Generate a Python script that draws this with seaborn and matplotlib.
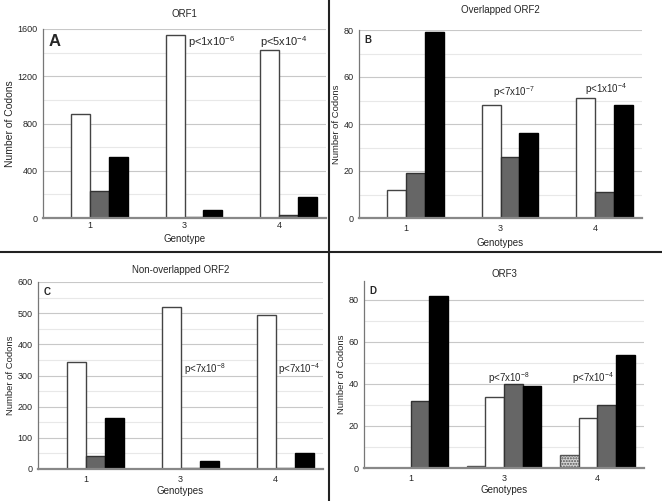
import numpy as np
import pandas as pd
import matplotlib
matplotlib.use("Agg")
import matplotlib.pyplot as plt
from matplotlib.lines import Line2D
import seaborn as sns

# data
genotypes = ["1", "3", "4"]
classes = ["dotted", "white", "gray", "black"]

orf1 = {"dotted": [0, 0, 0], "white": [880, 1550, 1425], "gray": [225, 6, 25], "black": [520, 70, 175]}
orf2_ov = {"dotted": [0, 0, 0], "white": [12, 48, 51], "gray": [19, 26, 11], "black": [79, 36, 48]}
orf2_nov = {"dotted": [0, 0, 0], "white": [343, 521, 493], "gray": [41, 3, 4], "black": [163, 26, 52]}
orf3 = {"dotted": [0, 1, 6], "white": [0, 34, 24], "gray": [32, 40, 30], "black": [82, 39, 54]}

pvals_a = [r"p<1x10$^{\mathregular{-6}}$", r"p<5x10$^{\mathregular{-4}}$"]
pvals_b = [r"p<7x10$^{\mathregular{-7}}$", r"p<1x10$^{\mathregular{-4}}$"]
pvals_c = [r"p<7x10$^{\mathregular{-8}}$", r"p<7x10$^{\mathregular{-4}}$"]
pvals_d = [r"p<7x10$^{\mathregular{-8}}$", r"p<7x10$^{\mathregular{-4}}$"]

sns.set_style("white")
plt.rcParams["font.family"] = ["Liberation Sans", "DejaVu Sans"]
plt.rcParams["mathtext.default"] = "regular"

W, H = 662, 501
fig = plt.figure(figsize=(W / 100, H / 100), dpi=100)

fills = {"dotted": "#d4d4d4", "white": "#ffffff", "gray": "#666666", "black": "#000000"}
edges = {"dotted": "#555555", "white": "#444444", "gray": "#333333", "black": "#000000"}


def px_axes(left, right, top, bottom):
    return fig.add_axes([left / W, 1 - bottom / H, (right - left) / W, (bottom - top) / H])


def to_long(d):
    rows = []
    for c in classes:
        for g, v in zip(genotypes, d[c]):
            rows.append({"genotype": g, "cls": c, "codons": v})
    return pd.DataFrame(rows)


def draw_panel(ax, d, ymax, step, title, title_pad, letter, letter_size, xlabel,
               ylabel_size, tick_pad, xlabel_pad):
    sns.barplot(data=to_long(d), x="genotype", y="codons", hue="cls", order=genotypes,
                hue_order=classes, palette=fills, saturation=1, width=0.8,
                errorbar=None, legend=False, linewidth=1, ax=ax)
    for cont, c in zip(ax.containers, classes):
        for bar in cont:
            bar.set_edgecolor(edges[c])
            if c == "dotted":
                bar.set_hatch("......")
    ax.set_xlim(-0.5, 2.5)
    ax.set_ylim(0, ymax)
    ax.set_yticks(np.arange(0, ymax + 0.01, step))
    ax.set_yticks(np.arange(step / 2, ymax, step), minor=True)
    ax.grid(axis="y", which="major", color="#c8c8c8", lw=0.8)
    ax.grid(axis="y", which="minor", color="#e8e8e8", lw=0.8)
    ax.set_axisbelow(True)
    for s in ["top", "right"]:
        ax.spines[s].set_visible(False)
    ax.spines["left"].set_color("#777777")
    ax.spines["left"].set_linewidth(0.9)
    ax.spines["bottom"].set_color("#888888")
    ax.spines["bottom"].set_linewidth(1.6)
    ax.spines["bottom"].set_zorder(5)
    ax.tick_params(axis="y", which="major", length=3, width=0.8, color="#555555",
                   pad=1, labelsize=6.5)
    ax.tick_params(axis="y", which="minor", length=0)
    ax.tick_params(axis="x", length=0, pad=tick_pad, labelsize=6.5)
    ax.set_xlabel(xlabel, fontsize=7, labelpad=xlabel_pad)
    ax.set_ylabel("Number of Codons", fontsize=ylabel_size, labelpad=2)
    ax.set_title(title, fontsize=7, pad=title_pad)
    ax.text(0.018, 0.975, letter, transform=ax.transAxes, fontsize=letter_size,
            fontweight="bold", ha="left", va="top")


ax_a = px_axes(43, 326, 29, 218)
draw_panel(ax_a, orf1, 1600, 400, "ORF1", 8.5, "A", 12, "Genotype", 7.5, 2, 3)
ax_a.text(1.04, 1460, pvals_a[0], fontsize=8, ha="left", va="baseline")
ax_a.text(1.80, 1460, pvals_a[1], fontsize=8, ha="left", va="baseline")

ax_b = px_axes(359, 642, 30, 218)
draw_panel(ax_b, orf2_ov, 80, 20, "Overlapped ORF2", 12, "B", 7, "Genotypes", 6.8, 4, 4)
ax_b.text(0.92, 52, pvals_b[0], fontsize=7, ha="left", va="baseline")
ax_b.text(1.90, 53, pvals_b[1], fontsize=7, ha="left", va="baseline")

ax_c = px_axes(38, 323, 282, 469)
draw_panel(ax_c, orf2_nov, 600, 100, "Non-overlapped ORF2", 6.5, "C", 7, "Genotypes", 6.8, 4, 2)
ax_c.text(1.04, 309, pvals_c[0], fontsize=7, ha="left", va="baseline")
ax_c.text(2.03, 309, pvals_c[1], fontsize=7, ha="left", va="baseline")

ax_d = px_axes(364, 644, 281, 468)
draw_panel(ax_d, orf3, 89, 20, "ORF3", 3, "D", 7, "Genotypes", 6.8, 4, 2)
ax_d.set_yticks(np.arange(10, 89, 20), minor=True)
ax_d.text(0.83, 41, pvals_d[0], fontsize=7, ha="left", va="baseline")
ax_d.text(1.73, 41, pvals_d[1], fontsize=7, ha="left", va="baseline")

# panel dividers
fig.add_artist(Line2D([329 / W, 329 / W], [0, 1], color="#222222", lw=1.5))
fig.add_artist(Line2D([0, 1], [1 - 252 / H, 1 - 252 / H], color="#222222", lw=1.5))

fig.savefig("out.png", dpi=100)
